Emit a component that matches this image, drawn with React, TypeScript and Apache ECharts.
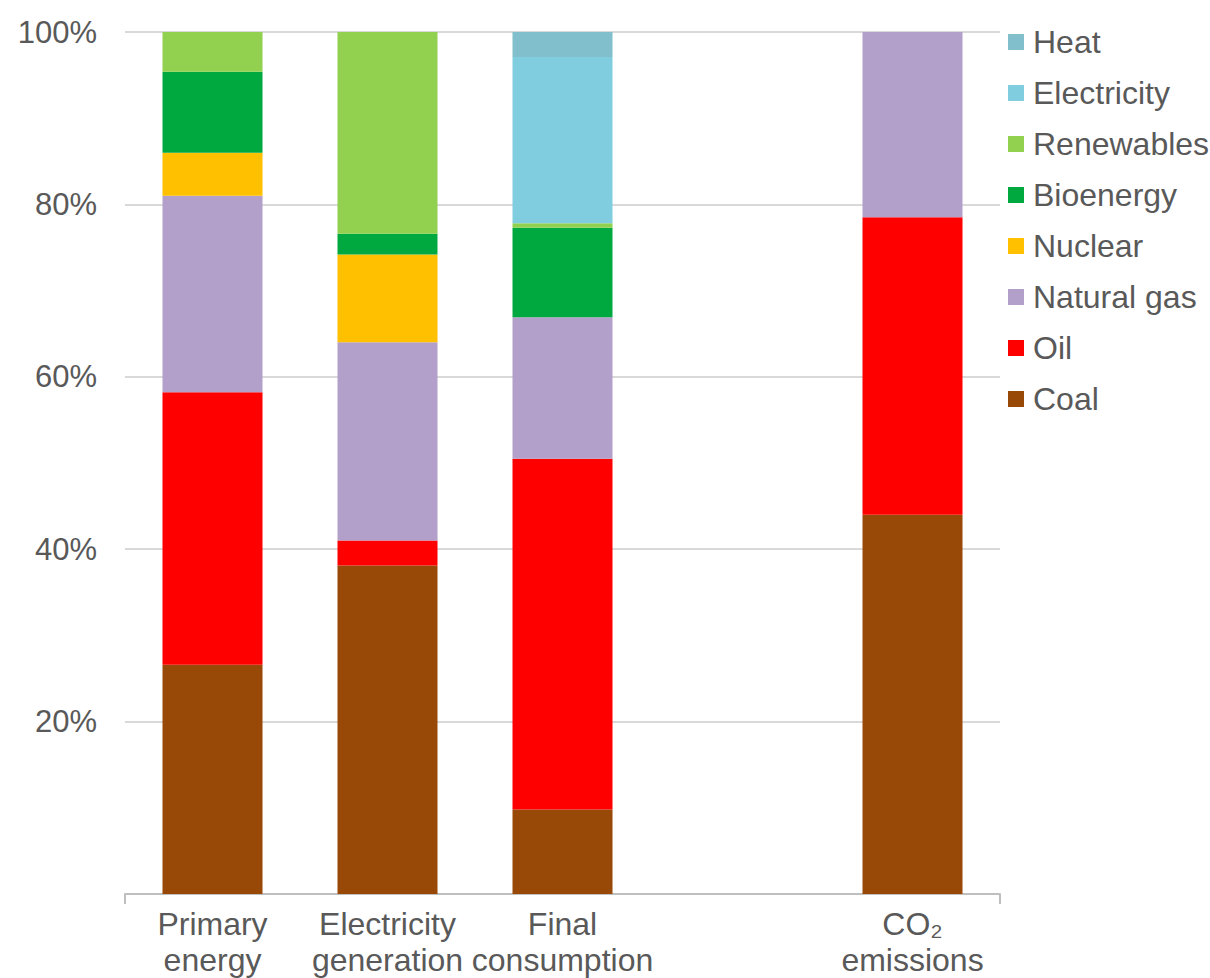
import React, { useEffect, useRef } from "react";
import * as echarts from "echarts";

const categories = ["Primary\nenergy", "Electricity\ngeneration", "Final\nconsumption", "", "CO₂\nemissions"];
const coal = [26.6, 38.1, 9.8, null, 44.0];
const oil = [31.6, 2.9, 40.7, null, 34.5];
const naturalGas = [22.8, 23.0, 16.4, null, 21.5];
const nuclear = [5.0, 10.2, 0, null, 0];
const bioenergy = [9.4, 2.4, 10.4, null, 0];
const renewables = [4.6, 23.4, 0.5, null, 0];
const electricity = [0, 0, 19.3, null, 0];
const heat = [0, 0, 2.9, null, 0];
const yTicks = [0, 20, 40, 60, 80, 100];

const FONT = "'Liberation Sans', Arial, sans-serif";
const TEXT = "#595959";

const seriesDefs = [
  { name: "Coal", data: coal, color: "#984807" },
  { name: "Oil", data: oil, color: "#FF0000" },
  { name: "Natural gas", data: naturalGas, color: "#B3A0CA" },
  { name: "Nuclear", data: nuclear, color: "#FFC000" },
  { name: "Bioenergy", data: bioenergy, color: "#00A940" },
  { name: "Renewables", data: renewables, color: "#92D050" },
  { name: "Electricity", data: electricity, color: "#80CDE0" },
  { name: "Heat", data: heat, color: "#80BFCB" },
];

export default function App() {
  const ref = useRef<HTMLDivElement>(null);
  useEffect(() => {
    if (!ref.current) return;
    const chart = echarts.init(ref.current, null, { renderer: "svg" });
    chart.setOption({
      animation: false,
      textStyle: { fontFamily: FONT },
      grid: { left: 125, right: 210, top: 32, bottom: 82, containLabel: false },
      legend: {
        orient: "vertical",
        left: 1008,
        top: 26,
        padding: 0,
        icon: "rect",
        itemWidth: 16,
        itemHeight: 16,
        itemGap: 19,
        data: seriesDefs.map((s) => s.name).reverse(),
        textStyle: { fontSize: 32, color: TEXT, fontFamily: FONT, lineHeight: 32, padding: [0, 0, 0, 4] },
      },
      xAxis: [
        {
          type: "category",
          data: categories,
          position: "bottom",
          offset: 0,
          axisLine: { show: true, lineStyle: { color: "#BFBFBF", width: 2 } },
          axisTick: { show: false },
          axisLabel: {
            interval: 0,
            fontSize: 32,
            lineHeight: 36,
            color: TEXT,
            fontFamily: FONT,
            margin: 12,
          },
        },
        {
          type: "value",
          min: 0,
          max: 1,
          interval: 1,
          position: "bottom",
          offset: 0,
          axisLine: { show: false },
          axisTick: { show: true, length: 10, lineStyle: { color: "#BFBFBF", width: 2 } },
          axisLabel: { show: false },
          splitLine: { show: false },
        },
      ],
      yAxis: {
        type: "value",
        min: yTicks[0],
        max: yTicks[yTicks.length - 1],
        interval: 20,
        axisLine: { show: false },
        axisTick: { show: false },
        splitLine: { lineStyle: { color: "#D9D9D9", width: 2 } },
        axisLabel: {
          showMinLabel: false,
          formatter: "{value}%",
          fontSize: 31,
          color: TEXT,
          fontFamily: FONT,
          margin: 28,
        },
      },
      series: seriesDefs.map((s) => ({
        name: s.name,
        type: "bar",
        stack: "total",
        xAxisIndex: 0,
        barWidth: 100,
        data: s.data,
        itemStyle: { color: s.color },
      })),
    });
    return () => chart.dispose();
  }, []);
  return <div ref={ref} style={{ width: 1210, height: 978, position: "absolute", left: 0, top: 0 }} />;
}
